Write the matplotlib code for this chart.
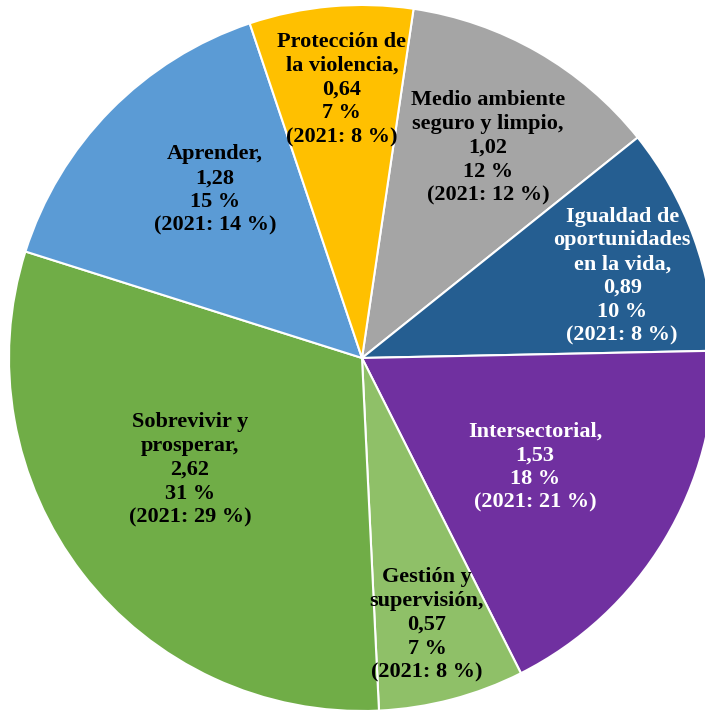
import matplotlib.pyplot as plt

# slices, clockwise from the top
categories = ['Medio ambiente\nseguro y limpio', 'Igualdad de\noportunidades\nen la vida',
              'Intersectorial', 'Gestión y\nsupervisión', 'Sobrevivir y\nprosperar',
              'Aprender', 'Protección de\nla violencia']
values = [1.02, 0.89, 1.53, 0.57, 2.62, 1.28, 0.64]
value_labels = ['1,02', '0,89', '1,53', '0,57', '2,62', '1,28', '0,64']
pct_labels = ['12 %', '10 %', '18 %', '7 %', '31 %', '15 %', '7 %']
prev_labels = ['(2021: 12 %)', '(2021: 8 %)', '(2021: 21 %)', '(2021: 8 %)',
               '(2021: 29 %)', '(2021: 14 %)', '(2021: 8 %)']

colors = ['#A5A5A5', '#255E91', '#7030A0', '#8FC068', '#70AD47', '#5B9BD5', '#FFC000']
text_colors = ['black', 'white', 'white', 'black', 'black', 'black', 'black']
# label centres in data units (pie radius 1)
label_pos = [(0.357, 0.595), (0.737, 0.232), (0.49, -0.309), (0.184, -0.756),
             (-0.487, -0.317), (-0.416, 0.476), (-0.057, 0.76)]

fig = plt.figure(figsize=(7.05, 7.13), dpi=100)
R = 353
cx, cy = 362, 358
ax = fig.add_axes([(cx - R) / 705, (713 - cy - R) / 713, 2 * R / 705, 2 * R / 713])

ax.pie(values, colors=colors, startangle=81.6, counterclock=False,
       wedgeprops=dict(edgecolor='white', linewidth=1.5))
ax.set_xlim(-1, 1)
ax.set_ylim(-1, 1)

for i, name in enumerate(categories):
    txt = f'{name},\n{value_labels[i]}\n{pct_labels[i]}\n{prev_labels[i]}'
    x, y = label_pos[i]
    ax.text(x, y, txt, ha='center', va='center', fontsize=16, fontweight='bold',
            family='Liberation Serif', color=text_colors[i], linespacing=1.25)

plt.savefig('out.png', dpi=100)
